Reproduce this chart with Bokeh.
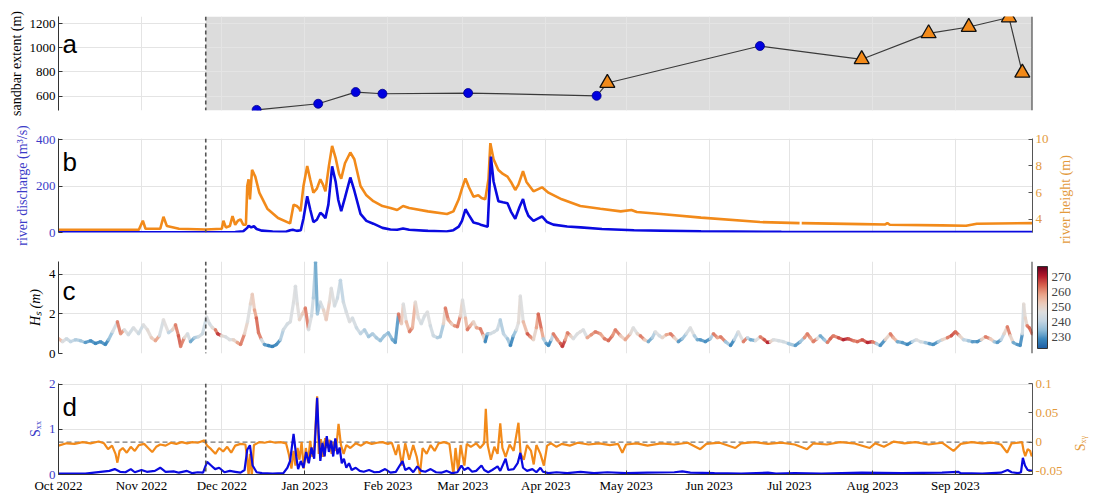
import math
import numpy as np
import pandas as pd
from bokeh.plotting import figure
from bokeh.models import (Range1d, LinearAxis, Span, BoxAnnotation, Label, ColorBar,
                          LinearColorMapper, MonthsTicker, DatetimeTickFormatter,
                          FixedTicker, ColumnDataSource)
from bokeh.layouts import column, row
from bokeh.core.properties import value
from bokeh.transform import linear_cmap
from bokeh.embed import file_html
from bokeh.resources import INLINE

# ---------------- data ----------------
T0 = pd.Timestamp("2022-10-01")
T_END_DAYS = 363.8
DASH_DAY = "2022-11-25"

# panel a: sandbar extent
circ_dates = ["2022-12-14", "2023-01-06", "2023-01-20", "2023-01-30", "2023-03-03", "2023-04-20", "2023-06-20"]
circ_vals = [485, 536, 633, 619, 625, 602, 1015]
tri_dates = ["2023-04-24", "2023-07-28", "2023-08-22", "2023-09-06", "2023-09-21", "2023-09-26"]
tri_vals = [708, 905, 1120, 1173, 1252, 793]

# panel b: river discharge (days since 2022-10-01)
q_day = [0, 30, 60, 66, 69, 70.5, 71, 72, 73, 74, 76, 80, 85, 86.5, 87.5, 89, 90.5, 91.5, 92.9, 94, 95.2,
         96.5, 97.8, 98.8, 99.7, 100.8, 102.2, 103.5, 104.5, 105.6, 107, 109, 110.5, 112.8, 115, 117.6,
         121, 124, 126.5, 128.7, 131, 138, 145, 147.5, 149.5, 150.7, 152, 153.3, 155, 156.8, 158, 160.3,
         161, 161.5, 162.5, 164.3, 166, 167.7, 169, 170.6, 172.2, 173.5, 174.5, 175.5, 177.4, 179, 180.6,
         182.5, 184.8, 190, 195, 203, 215, 240, 270, 300, 340, 364]
q_val = [1, 1, 1, 2, 5, 20, 29, 22, 27, 15, 8, 4, 3, 10, 12, 7, 10, 60, 156, 100, 45,
         55, 85, 75, 62, 120, 285, 220, 140, 92, 150, 237, 180, 80, 50, 38,
         20, 13, 12, 17, 12, 7, 4, 10, 25, 50, 100, 75, 43, 38, 32, 25,
         200, 327, 220, 135, 130, 126, 90, 59, 110, 144, 100, 72, 50, 60, 69,
         45, 34, 26, 22, 15, 10, 5, 3, 2, 2, 2]

# panel b: river height (m)
h_day = [0, 30, 31.5, 32.5, 38, 39.2, 40.5, 45, 55, 61, 61.6, 62.5, 64, 65, 66, 67, 68, 69, 70, 70.5, 71,
         71.5, 72.3, 73.5, 75, 78, 82, 86.5, 87.8, 89, 90, 90.4, 91.5, 92.9, 94, 95.2, 96.5, 97.8, 98.8,
         99.7, 101, 102.2, 103.5, 104.8, 105.6, 107, 109, 110.5, 112.8, 115, 117.6, 121, 124, 126.5, 128.7,
         131, 138, 145.1, 147.5, 149.5, 150.7, 152, 153.3, 155, 156.8, 158, 159.4, 160.6, 161.3, 162.5,
         164.3, 166, 167.7, 169, 170.6, 171.8, 173.5, 174.8, 177.4, 179, 180.6, 183, 188, 194.9, 202.4,
         210, 214, 216, 225, 240, 262, 276.8, 277.2, 277.6, 300, 308.8, 309.6, 310.5, 330, 339, 343, 364]
h_val = [3.22, 3.22, 3.9, 3.3, 3.3, 4.2, 3.5, 3.3, 3.25, 3.3, 3.9, 3.4, 3.5, 4.25, 3.6, 3.9, 4.0, 3.6, 3.6, 6.5, 7.0,
         5.5, 7.7, 7.2, 6.0, 4.8, 4.1, 3.7, 5.1, 5.0, 4.8, 4.6, 6.5, 8.0, 7.0, 6.0, 6.3, 7.0, 6.6,
         6.1, 8.0, 9.5, 8.6, 7.4, 7.05, 8.2, 9.0, 8.5, 6.5, 5.8, 5.36, 5.0, 4.86, 4.7, 5.0,
         4.85, 4.6, 4.4, 4.6, 5.5, 6.3, 7.07, 6.4, 5.7, 5.8, 5.6, 5.5, 7.0, 9.7, 8.5,
         7.7, 7.4, 7.2, 6.8, 6.2, 6.6, 7.6, 6.8, 6.1, 6.25, 6.4, 6.0, 5.5, 5.0, 4.8,
         4.6, 4.7, 4.55, 4.4, 4.13, 3.8, 3.72, float("nan"), 3.72, 3.65, 3.62, 3.72, 3.6, 3.55, 3.52, 3.68, 3.72]

# panel c: significant wave height (m) and direction (deg)
hs_day = [0, 1.5, 3, 4.5, 6.3, 8.2, 10, 12, 13.8, 15.7, 17.5, 18.7, 20.2, 22, 23.2, 24.6, 26.1, 28, 29.9, 31.7,
          33.2, 34.7, 36.2, 37.7, 39.2, 41.1, 42.6, 43.7, 44.8, 45.6, 47, 48.2, 49.3, 50.8, 52.3, 53.8, 55.3,
          56.4, 57.5, 58.6, 59.4, 60.9, 62.4, 63.9, 65.3, 66.8, 68, 69.5, 70.6, 71.7, 72.4, 73.2, 73.9, 74.7,
          75.8, 76.9, 78.4, 79.9, 81.4, 82.9, 84, 85.5, 86.6, 87.8, 88.5, 89.2, 90, 91.1, 92.2, 93.4, 94.5,
          95.2, 96, 96.7, 97.8, 99, 100, 101.2, 101.9, 103.1, 104.2, 105.3, 106.4, 107.5, 108.7, 109.8, 111.3,
          112.8, 114.3, 115.8, 117.3, 118.7, 120.2, 121.7, 123.2, 124.7, 125.8, 127, 128.1, 128.8, 129.9,
          131.1, 132.2, 133.3, 134.4, 135.5, 136.7, 137.8, 138.9, 140, 141.5, 142.6, 143.8, 144.5, 145.6,
          146.8, 147.9, 149, 150.1, 150.9, 152, 152.7, 153.8, 155, 156.1, 157.6, 158.7, 159.4, 160.2, 161.3,
          162.8, 163.9, 165, 166.2, 167.7, 168.8, 169.9, 171, 171.8, 172.5, 173.6, 175.1, 176.2, 177.4, 178.5,
          179.2, 180.4, 181.1, 182.2, 183, 184.1, 184.8, 186.3, 187.5, 188.2, 189.3, 190.1, 191.2, 192.3,
          193.8, 194.9, 196, 197.5, 199, 200.5, 202.4, 203.9, 205.4, 206.9, 208, 209.9, 211.7, 213.6, 214.7,
          216.2, 217.3, 218.8, 220.3, 221.8, 222.9, 224.4, 225.5, 227, 228.6, 230, 231.5, 233, 234.5, 236,
          237.5, 238.6, 239.7, 241.6, 243.5, 244.6, 246.1, 247.3, 249.1, 251, 252.4, 253.9, 255.8, 257.3,
          258.4, 260.3, 262.1, 263.6, 264.8, 265.9, 267, 268.9, 270.7, 272.6, 275.2, 277.1, 278.6, 279.7,
          280.8, 281.9, 283.4, 284.5, 286, 287.2, 288.3, 289.4, 291.3, 293.1, 295, 296.9, 298.4, 300.2, 302.1,
          304, 305.5, 306.9, 308.8, 310.7, 311.8, 313.3, 315.2, 317, 318.9, 320.4, 321.9, 323.7, 325.2, 326.7,
          328.6, 330.1, 332, 333.5, 335, 336.5, 338, 339.8, 341.3, 343.2, 344.7, 346.2, 348, 349.5, 350.6,
          352.1, 353.2, 354.4, 355.5, 356.6, 358.1, 359.2, 360, 360.5, 361.1, 361.8, 362.6, 363.7]
hs_val = [0.75, 0.6, 0.75, 0.6, 0.7, 0.65, 0.55, 0.65, 0.5, 0.6, 0.45, 0.7, 1.1, 1.6, 1.0, 1.2, 0.95, 1.3, 1.0, 1.45,
          1.2, 0.8, 0.65, 0.9, 1.7, 1.05, 1.2, 1.45, 0.9, 0.36, 0.8, 1.0, 0.6, 0.8, 0.85, 1.0, 1.85,
          1.5, 1.3, 1.2, 1.0, 0.9, 0.85, 0.7, 0.7, 0.55, 0.45, 1.0, 1.6, 2.5, 3.0, 2.2, 1.8, 1.05,
          0.7, 0.45, 0.4, 0.35, 0.45, 0.7, 1.2, 1.5, 1.6, 2.6, 3.4, 2.5, 1.7, 2.0, 2.3, 1.2, 1.9,
          2.8, 4.6, 2.0, 2.6, 2.2, 1.7, 2.6, 3.3, 2.4, 2.8, 3.7, 2.6, 2.1, 1.6, 1.8, 1.3,
          1.0, 1.2, 0.85, 1.0, 0.8, 0.65, 0.9, 1.05, 0.7, 0.55, 2.0, 1.5, 2.5, 1.6,
          1.1, 1.3, 2.6, 1.8, 1.5, 1.9, 2.1, 1.4, 0.9, 0.8, 0.85, 1.5, 2.3, 1.7,
          1.5, 1.4, 1.35, 1.9, 2.7, 1.8, 1.2, 1.4, 1.6, 1.3, 1.25, 0.9, 0.6, 1.0, 1.0,
          1.1, 1.2, 1.7, 1.0, 0.75, 0.4, 0.9, 1.2, 1.55, 2.9, 1.6, 1.0, 0.85, 0.7, 1.3,
          2.0, 1.2, 0.75, 0.5, 0.4, 0.7, 1.0, 0.7, 0.5, 0.35, 0.7, 1.05, 0.9, 0.75,
          1.0, 1.1, 1.2, 0.8, 0.95, 1.1, 1.0, 0.75, 0.65, 0.9, 1.2, 0.9, 0.7, 1.0, 1.3,
          1.0, 0.9, 0.7, 0.6, 0.8, 1.1, 0.9, 0.8, 0.95, 1.0, 0.8, 0.6, 0.75, 1.0, 1.3,
          0.9, 0.7, 0.7, 0.6, 0.75, 1.0, 0.8, 0.85, 0.6, 0.4, 0.7, 1.1, 0.6, 0.8,
          0.7, 0.65, 0.85, 0.7, 0.55, 0.6, 0.7, 0.65, 0.6, 0.5, 0.4, 0.6, 0.8, 1.0,
          0.8, 0.6, 0.75, 0.9, 0.7, 0.55, 0.75, 0.9, 0.8, 0.7, 0.75, 0.65, 0.6, 0.7, 0.55,
          0.6, 0.5, 0.4, 0.7, 1.0, 0.8, 0.6, 0.55, 0.45, 0.6, 0.7, 0.6, 0.55, 0.5, 0.45,
          0.6, 0.7, 0.8, 0.9, 1.1, 0.9, 0.7, 0.65, 0.6, 0.6, 0.7, 0.85, 0.75, 0.6, 0.55,
          0.7, 1.0, 1.35, 0.9, 0.55, 0.45, 0.4, 1.0, 2.5, 1.8, 1.4, 1.3, 1.0]
hs_dir = [255, 245, 242, 240, 238, 236, 230, 229, 228, 229, 228, 235, 244, 262, 260, 246, 243, 245, 242, 246,
          248, 252, 258, 244, 247, 240, 250, 262, 265, 262, 248, 244, 232, 238, 243, 242, 245,
          244, 248, 262, 268, 248, 245, 246, 250, 258, 262, 250, 246, 250, 252, 258, 264, 262,
          244, 230, 228, 227, 229, 238, 243, 244, 245, 246, 245, 247, 250, 252, 262, 245, 242,
          238, 232, 236, 244, 250, 252, 248, 246, 244, 242, 240, 243, 245, 246, 244, 242,
          240, 238, 236, 238, 237, 235, 236, 234, 232, 230, 262, 252, 246, 255,
          262, 256, 248, 246, 244, 245, 246, 243, 242, 238, 237, 250, 262, 258,
          252, 260, 262, 250, 246, 255, 262, 256, 250, 258, 262, 250, 228, 236, 243,
          244, 242, 238, 240, 236, 228, 235, 246, 248, 246, 255, 265, 260, 250, 258,
          264, 258, 238, 230, 228, 240, 262, 260, 265, 268, 258, 262, 250, 245,
          246, 247, 245, 258, 260, 262, 258, 262, 264, 260, 262, 252, 258, 248, 246,
          250, 262, 252, 232, 238, 246, 244, 250, 258, 262, 250, 230, 236, 244, 246,
          238, 232, 230, 229, 238, 262, 258, 262, 236, 228, 240, 246, 262, 240,
          232, 246, 262, 266, 270, 250, 245, 244, 243, 236, 230, 236, 260, 262,
          258, 262, 246, 232, 236, 262, 264, 262, 266, 270, 266, 262, 264, 266, 270,
          262, 238, 229, 250, 262, 256, 232, 230, 228, 240, 246, 244, 236, 230, 229,
          238, 250, 262, 266, 264, 250, 240, 236, 230, 229, 250, 262, 252, 236, 230,
          240, 250, 262, 250, 232, 230, 229, 244, 248, 250, 262, 264, 262]

# panel d: radiation stresses
sxx_day = [0, 10, 19, 21, 23, 25, 27, 28.5, 31, 33, 36, 38, 40, 43, 45, 48, 50, 52, 54, 55.5, 57, 58.5, 60,
           62, 64, 66, 68, 69.5, 70.5, 71.5, 72.5, 74, 76, 80, 84, 85.5, 86.5, 87.8, 88.8, 89.5, 90.5,
           91.5, 92.5, 93.5, 94.5, 95.5, 96.6, 97.2, 97.8, 98.6, 99.4, 100.2, 101, 101.8, 102.6, 103.4,
           104.2, 105, 105.8, 106.6, 107.5, 108.5, 109.5, 111, 112.5, 114, 116, 118, 120, 122, 124, 126,
           128.5, 129.5, 131, 132.5, 134, 135.5, 137, 139, 141, 143, 145, 147, 149, 150.5, 151.5, 153,
           154.5, 156, 158, 159, 160.5, 162, 164, 165, 167, 168, 170, 171.5, 172.5, 173.5, 175, 177,
           178.5, 180, 181, 183, 186, 190, 195, 200, 205, 212, 220, 230, 233, 236, 245, 255, 265, 268,
           275, 285, 300, 315, 330, 336, 337, 345, 352, 354.5, 356, 358.5, 359.5, 360.2, 361, 362, 363.7]
sxx_val = [0.02, 0.02, 0.08, 0.12, 0.06, 0.05, 0.12, 0.05, 0.1, 0.06, 0.08, 0.15, 0.06, 0.07, 0.04, 0.08,
           0.03, 0.05, 0.04, 0.28, 0.2, 0.12, 0.15, 0.05, 0.08, 0.06, 0.04, 0.1, 0.55, 0.65, 0.2, 0.05,
           0.03, 0.02, 0.03, 0.15, 0.3, 0.9, 0.4, 0.12, 0.3, 0.15, 0.5, 0.25, 0.6, 0.35, 1.7, 0.9, 0.3,
           0.7, 0.4, 0.85, 0.5, 0.75, 0.4, 0.8, 0.45, 0.6, 0.25, 0.35, 0.15, 0.25, 0.1, 0.15, 0.08, 0.06,
           0.1, 0.05, 0.06, 0.12, 0.04, 0.06, 0.3, 0.1, 0.15, 0.05, 0.18, 0.08, 0.06, 0.12, 0.05, 0.04,
           0.08, 0.03, 0.05, 0.2, 0.1, 0.15, 0.06, 0.08, 0.2, 0.1, 0.05, 0.1, 0.18, 0.08, 0.35, 0.1, 0.12,
           0.25, 0.48, 0.15, 0.08, 0.12, 0.05, 0.15, 0.06, 0.03, 0.05, 0.03, 0.06, 0.03, 0.05, 0.03, 0.04,
           0.05, 0.07, 0.04, 0.03, 0.02, 0.04, 0.02, 0.03, 0.02, 0.04, 0.03, 0.04, 0.06, 0.03, 0.02, 0.04,
           0.1, 0.05, 0.03, 0.05, 0.37, 0.2, 0.1, 0.08]
sxy_day = [0, 3, 6, 9, 12, 15, 17, 18.5, 20, 21.3, 22, 22.8, 24, 25.5, 27, 28.5, 30, 32, 33.5, 35, 36.5, 38,
           40, 42, 44, 46, 48, 50, 52, 54.5, 55.5, 57, 58.6, 60, 61.5, 63, 64.5, 66, 68, 69.8, 70.5, 71,
           71.5, 72.2, 73, 75, 77, 79, 81, 83, 85, 86, 87, 87.8, 88.5, 89.3, 90, 90.8, 91.6, 92.4, 93.2,
           94, 94.8, 95.6, 96.6, 97.2, 98, 98.8, 99.6, 100.4, 101.2, 102, 102.8, 103.6, 104.6, 105.5,
           106.5, 107.5, 109, 111, 113, 115, 117, 119, 121, 123, 124.5, 126, 127, 128.3, 129.5, 131,
           132.5, 133.8, 135, 136, 137.5, 139, 140.5, 142, 144, 146, 147.5, 148.3, 149.3, 150.2, 151.6,
           152.5, 154, 156, 157.5, 159, 159.6, 160.3, 161.5, 162.8, 164, 165, 165.8, 167, 168.5, 170,
           171.8, 172.6, 173.8, 175, 176.5, 177.5, 178.5, 180, 181.3, 182.5, 184, 186, 188, 191, 194, 198,
           202, 206, 209, 210.6, 212, 216, 220, 225, 230, 235, 239.7, 242, 247, 252.8, 255, 260, 265, 270,
           275, 279.6, 282, 287, 292, 297, 303, 305, 308.3, 312, 316, 320, 325, 330, 334.3, 337, 341, 345,
           349, 352, 354.3, 356, 358.5, 359.9, 360.5, 361.1, 362, 362.9, 363.5, 363.7]
sxy_val = [-0.006, -0.002, -0.003, 0.0, -0.002, 0.001, -0.002, -0.012, -0.006, -0.02, -0.035, -0.015, -0.01,
           -0.018, -0.008, -0.015, -0.005, -0.003, -0.01, -0.017, -0.008, -0.004, -0.006, -0.001, -0.003,
           0.0, -0.002, 0.0, -0.001, 0.003, -0.006, -0.012, -0.02, -0.01, -0.016, -0.008, -0.018, -0.006,
           -0.003, -0.004, -0.03, -0.057, -0.02, -0.057, -0.005, 0.0, -0.001, 0.001, -0.001, 0.0, -0.002,
           -0.02, -0.045, -0.015, -0.04, -0.01, -0.03, 0.0, -0.045, -0.01, -0.035, 0.002, -0.025, -0.005,
           0.078, -0.02, 0.005, -0.025, 0.007, -0.01, 0.004, -0.02, 0.0, -0.015, 0.031, -0.005, -0.02,
           -0.005, -0.01, -0.002, -0.006, 0.0, -0.003, -0.001, 0.0, -0.003, -0.001, -0.022, -0.004, -0.04,
           -0.002, -0.03, -0.005, -0.025, -0.055, -0.01, -0.02, -0.005, -0.015, -0.002, 0.0, -0.003,
           -0.055, -0.01, -0.05, -0.005, -0.04, -0.003, -0.008, -0.002, -0.01, -0.002, 0.057, -0.005,
           -0.03, -0.008, -0.02, 0.032, -0.01, -0.025, -0.004, -0.015, 0.033, -0.02, -0.03, -0.005,
           -0.015, -0.038, -0.005, -0.02, -0.04, -0.006, -0.002, -0.008, -0.003, -0.006, -0.001, -0.004,
           -0.002, -0.005, -0.003, -0.018, -0.004, -0.002, -0.006, -0.002, -0.004, -0.001, -0.012, -0.003,
           -0.001, -0.01, -0.002, 0.0, -0.003, -0.001, -0.004, -0.012, -0.002, -0.004, 0.0, -0.002, -0.01,
           -0.002, -0.008, 0.001, -0.002, 0.0, -0.004, -0.001, -0.015, -0.003, 0.0, -0.002, -0.001, -0.004,
           -0.018, -0.002, -0.001, 0.0, -0.015, -0.024, -0.012, -0.015, -0.024, -0.022]

month_labels_fmt = "%b %Y"

# ---------------- styling ----------------
SERIF = "Liberation Serif"
SANS = "Liberation Sans"
BLUE = "#0a0ae0"
BLUE_TXT = "#3b3bc8"
ORANGE = "#f28a1a"
ORANGE_TXT = "#e39a3c"
AX = "#333333"
GRID = "#e4e4e4"
FRAME_W = 974
BORDER_L = 58
PAGE_W = 1094


def days_to_dt(d):
    return T0 + pd.to_timedelta(np.asarray(d, dtype=float), unit="D")


def ms(ts):
    return pd.Timestamp(ts).value / 1e6


x_start = T0
x_end = T0 + pd.Timedelta(days=T_END_DAYS)
xr = Range1d(start=x_start, end=x_end)
month_ticker = MonthsTicker(months=list(range(12)))


def style_axis(ax, color=AX, text_color="black", label_color="black"):
    ax.axis_line_color = color
    ax.major_tick_line_color = color
    ax.major_tick_in = 4
    ax.major_tick_out = 0
    ax.minor_tick_line_color = None
    ax.major_label_text_font = SERIF
    ax.major_label_text_font_size = "13px"
    ax.major_label_text_color = text_color
    ax.major_label_standoff = 3
    ax.axis_label_text_font = SERIF
    ax.axis_label_text_font_size = "14px"
    ax.axis_label_text_font_style = "normal"
    ax.axis_label_text_color = label_color
    ax.axis_label_standoff = 3


def make_fig(frame_h, top, bottom, yr, right):
    p = figure(frame_width=FRAME_W, frame_height=frame_h, x_axis_type="datetime", x_range=xr, y_range=yr,
               output_backend="svg", toolbar_location=None, min_border_left=BORDER_L,
               min_border_right=right, min_border_top=top, min_border_bottom=bottom)
    p.outline_line_color = None
    p.background_fill_color = "white"
    p.xaxis.ticker = month_ticker
    p.xgrid.ticker = month_ticker
    p.xgrid.grid_line_color = GRID
    p.ygrid.grid_line_color = GRID
    p.xaxis.formatter = DatetimeTickFormatter(months=month_labels_fmt, days=month_labels_fmt)
    style_axis(p.xaxis[0])
    style_axis(p.yaxis[0])
    span = Span(location=ms(DASH_DAY), dimension="height", line_color="#555555",
                line_dash="4 3", line_width=1.6)
    p.add_layout(span)
    return p


def side_text(text, total_h, width, tx, ty, color):
    """Narrow figure to the right of a panel holding its right-hand axis title."""
    s = figure(frame_width=width, frame_height=total_h, x_range=Range1d(0, width),
               y_range=Range1d(0, total_h), output_backend="svg", toolbar_location=None,
               x_axis_location=None, y_axis_location=None, min_border=0)
    s.outline_line_color = None
    s.grid.visible = False
    s.text(x=[tx], y=[ty], text=[text], angle=math.pi / 2, text_align="center",
           text_baseline="middle", text_font=value(SERIF), text_font_size="14px", text_color=color)
    return s


def right_edge(p):
    p.add_layout(Span(location=ms(x_end), dimension="height", line_color="#333333", line_width=2))


def letter(p, text, day, y):
    p.add_layout(Label(x=ms(T0 + pd.Timedelta(days=day)), y=y, text=text, text_font=SANS,
                       text_font_size="26px", text_color="black", text_baseline="alphabetic"))


# ---------------- panel a ----------------
pa = make_fig(94, 16, 13, Range1d(480, 1260), PAGE_W - BORDER_L - FRAME_W)
pa.xaxis.visible = False
pa.yaxis.ticker = FixedTicker(ticks=[600, 800, 1000, 1200])
pa.yaxis.axis_label = "sandbar extent (m)"
shade = BoxAnnotation(left=ms(DASH_DAY), right=ms(x_end), fill_color="#dcdcdc", fill_alpha=1.0,
                      line_color=None, level="image")
pa.add_layout(shade)
right_edge(pa)

all_pts = sorted([(pd.Timestamp(d), v) for d, v in zip(circ_dates, circ_vals)] +
                 [(pd.Timestamp(d), v) for d, v in zip(tri_dates, tri_vals)])
pa.line([t for t, _ in all_pts], [v for _, v in all_pts], line_color="#3a3a3a", line_width=1.2)
pa.scatter(pd.to_datetime(circ_dates), circ_vals, marker="circle", size=9, fill_color="#0000e0",
           line_color="#00008a", line_width=0.8)
pa.scatter(pd.to_datetime(tri_dates), tri_vals, marker="triangle", size=15, fill_color=ORANGE,
           line_color="#111111", line_width=1.3)
letter(pa, "a", 1.5, 1028)

# ---------------- panel b ----------------
B_RIGHT = 24
pb = make_fig(94, 15, 14, Range1d(0, 405), B_RIGHT)
pb.xaxis.visible = False
pb.yaxis.ticker = FixedTicker(ticks=[0, 200, 400])
pb.yaxis.axis_label = "river discharge (m³/s)"
pb.yaxis.major_label_text_color = BLUE_TXT
pb.yaxis.axis_label_text_color = BLUE_TXT
H_LO, H_HI = 3.02, 10.05
pb.extra_y_ranges = {"h": Range1d(H_LO, H_HI)}
rb = LinearAxis(y_range_name="h", ticker=FixedTicker(ticks=[4, 6, 8, 10]))
style_axis(rb, color="#555555", text_color=ORANGE_TXT, label_color=ORANGE_TXT)
pb.add_layout(rb, "right")
pb.line(days_to_dt(h_day), h_val, y_range_name="h", line_color=ORANGE, line_width=2.6)
pb.line(days_to_dt(q_day), q_val, line_color=BLUE, line_width=2.6)
letter(pb, "b", 1.5, 302)
b_side_w = PAGE_W - BORDER_L - FRAME_W - B_RIGHT
sb = side_text("river height (m)", 15 + 94 + 14, b_side_w, 9, 62, ORANGE_TXT)

# ---------------- panel c ----------------
base_pal = ['#1f5fa5', '#3a87bd', '#8fbcd8', '#c4d6e3', '#dedede', '#ecc9b8', '#e9a086',
            '#d6604d', '#b2182b', '#67001f']
try:
    from bokeh.palettes import interp_palette
    pal = list(interp_palette(base_pal, 256))
except Exception:
    pal = base_pal
DIR_LOW, DIR_HIGH = 222, 277

pc = make_fig(92, 15, 15, Range1d(0, 4.65), PAGE_W - BORDER_L - FRAME_W)
pc.xaxis.visible = False
pc.yaxis.ticker = FixedTicker(ticks=[0, 2, 4])
pc.yaxis.axis_label = "Hₛ (m)"
pc.yaxis.axis_label_text_font_style = "italic"
hs_t = days_to_dt(hs_day)
seg_src = ColumnDataSource(dict(x0=hs_t[:-1], x1=hs_t[1:], y0=hs_val[:-1], y1=hs_val[1:],
                                dir=hs_dir[:-1]))
cmap = linear_cmap("dir", pal, DIR_LOW, DIR_HIGH)
pc.segment("x0", "y0", "x1", "y1", source=seg_src, line_color=cmap, line_width=3.2, line_alpha=0.9)
pt_src = ColumnDataSource(dict(x=hs_t, y=hs_val, dir=hs_dir))
pc.scatter("x", "y", source=pt_src, size=3.5, fill_color=cmap, line_color=None, fill_alpha=0.9)
right_edge(pc)
mapper = LinearColorMapper(palette=pal, low=DIR_LOW, high=DIR_HIGH)
cb = ColorBar(color_mapper=mapper, width=10, padding=5, margin=0, label_standoff=4,
              ticker=FixedTicker(ticks=[230, 240, 250, 260, 270]),
              major_label_text_font=SERIF, major_label_text_font_size="13px",
              major_tick_line_color=None, bar_line_color="#333333", border_line_color=None,
              background_fill_color=None)
pc.add_layout(cb, "right")
letter(pc, "c", 1.5, 3.18)

# ---------------- panel d ----------------
D_RIGHT = 40
pd_ = make_fig(91, 15, 25, Range1d(0, 2.02), D_RIGHT)
pd_.yaxis.ticker = FixedTicker(ticks=[0, 1, 2])
pd_.yaxis.axis_label = "Sₓₓ"
pd_.yaxis.major_label_text_color = BLUE_TXT
pd_.yaxis.axis_label_text_color = BLUE_TXT
pd_.xaxis.major_label_standoff = 3
SXY_LO, SXY_HI = -0.0552, 0.1
pd_.extra_y_ranges = {"sxy": Range1d(SXY_LO, SXY_HI)}
rd = LinearAxis(y_range_name="sxy", ticker=FixedTicker(ticks=[-0.05, 0, 0.05, 0.1]))
style_axis(rd, color="#555555", text_color=ORANGE_TXT, label_color=ORANGE_TXT)
rd.major_label_overrides = {-0.05: "-0.05", 0: "0", 0.05: "0.05", 0.1: "0.1"}
pd_.add_layout(rd, "right")
pd_.line([x_start, x_end], [0, 0], y_range_name="sxy", line_color="#777777", line_dash="5 3",
         line_width=1.2)
pd_.line(days_to_dt(sxy_day), sxy_val, y_range_name="sxy", line_color=ORANGE, line_width=2.2)
pd_.line(days_to_dt(sxx_day), sxx_val, line_color=BLUE, line_width=2.2)
letter(pd_, "d", 1.5, 1.49)
d_side_w = PAGE_W - BORDER_L - FRAME_W - D_RIGHT
sd = side_text("Sₓᵧ", 15 + 91 + 25, d_side_w, 8, 71, ORANGE_TXT)

layout = column(pa, row(pb, sb, spacing=0), pc, row(pd_, sd, spacing=0), spacing=0)
open("out.html", "w").write(file_html(layout, INLINE, title="chart"))
